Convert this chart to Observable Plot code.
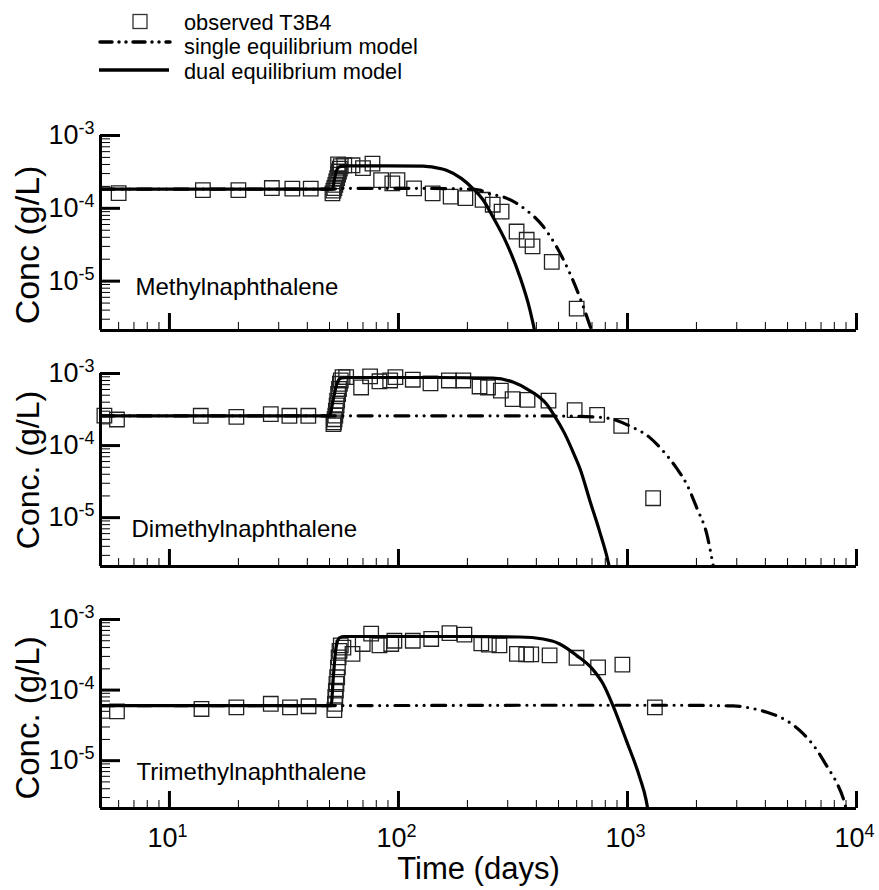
<!DOCTYPE html>
<html>
<head>
<meta charset="utf-8">
<script src="https://cdn.jsdelivr.net/npm/d3@7"></script>
<script src="https://cdn.jsdelivr.net/npm/@observablehq/plot@0.6"></script>
<style>
  body { margin: 0; background: #fff; }
  #root { position: relative; width: 879px; height: 890px; overflow: hidden; background: #fff;
          font-family: "Liberation Sans", Arial, sans-serif; }
  #root > svg { position: absolute; left: 0; overflow: visible; }
</style>
</head>
<body>
<div id="root"></div>
<script>
// ---------------- data ----------------
const panelNames = ["Methylnaphthalene", "Dimethylnaphthalene", "Trimethylnaphthalene"];
const yLabels = ["Conc (g/L)", "Conc. (g/L)", "Conc. (g/L)"];
const xLabel = "Time (days)";
const legendLabels = ["observed T3B4", "single equilibrium model", "dual equilibrium model"];

const xDomain = [5, 1e4];
const yDomain = [2.1e-6, 1e-3];
const xMajor = [10, 100, 1000, 10000];
const xMinor = [6, 7, 8, 9, 20, 30, 40, 50, 60, 70, 80, 90, 200, 300, 400, 500, 600, 700, 800, 900,
                2000, 3000, 4000, 5000, 6000, 7000, 8000, 9000];
const yMajor = [1e-3, 1e-4, 1e-5];
const yMinor = [3e-6, 4e-6, 5e-6, 6e-6, 7e-6, 8e-6, 9e-6,
                2e-5, 3e-5, 4e-5, 5e-5, 6e-5, 7e-5, 8e-5, 9e-5,
                2e-4, 3e-4, 4e-4, 5e-4, 6e-4, 7e-4, 8e-4, 9e-4];
const tickBase = "10";

// Methylnaphthalene  [time (days), conc (g/L)]
const obsMethyl = [
  [6.0, 1.62e-4], [14, 1.78e-4], [20, 1.78e-4], [28, 1.9e-4], [34.4, 1.86e-4], [41.4, 1.86e-4],
  [51.5, 1.6e-4], [52, 1.75e-4], [52.5, 1.9e-4], [53, 2.1e-4], [53.5, 2.35e-4], [54, 2.6e-4],
  [54.5, 2.9e-4], [55, 3.2e-4], [55.5, 3.5e-4], [56, 3.8e-4], [54.5, 4.0e-4],
  [58, 3.9e-4], [63, 3.9e-4], [70, 3.56e-4], [77, 4.1e-4], [84, 2.44e-4], [94, 2.2e-4], [99, 2.44e-4],
  [117, 1.88e-4], [141, 1.6e-4], [169, 1.45e-4], [196, 1.38e-4], [233, 1.31e-4], [258, 1.12e-4],
  [282, 9.0e-5], [328, 4.8e-5], [363, 3.7e-5], [385, 3.0e-5], [467, 1.84e-5], [600, 4.2e-6]
];
const singleMethyl = [
  [5, 1.84e-4], [51.5, 1.84e-4], [56, 1.88e-4], [120, 1.88e-4], [200, 1.84e-4], [226, 1.78e-4],
  [241, 1.64e-4], [296, 1.38e-4], [361, 9.5e-5], [428, 5.66e-5], [489, 3.0e-5], [558, 1.32e-5],
  [627, 5.4e-6], [697, 2.1e-6]
];
const dualMethyl = [
  [5, 1.84e-4], [51.5, 1.84e-4], [52.5, 2.5e-4], [53.5, 3.2e-4], [55, 3.7e-4], [58, 3.82e-4],
  [90, 3.82e-4], [128, 3.79e-4], [145, 3.62e-4], [162, 3.34e-4], [188, 2.58e-4], [211, 1.88e-4],
  [234, 1.31e-4], [258, 7.7e-5], [296, 3.36e-5], [338, 1.18e-5], [374, 4.16e-6], [393, 2.1e-6]
];

// Dimethylnaphthalene
const obsDimethyl = [
  [5.2, 2.6e-4], [5.9, 2.3e-4], [13.7, 2.59e-4], [19.6, 2.5e-4], [27.7, 2.73e-4], [33.4, 2.59e-4], [40.4, 2.59e-4],
  [52, 1.98e-4], [52.3, 2.1e-4], [52.6, 2.32e-4], [53, 2.6e-4], [53.3, 3.04e-4], [53.7, 3.6e-4],
  [54, 4.2e-4], [54.5, 5.2e-4], [55, 6.1e-4], [55.5, 7.2e-4], [56, 8.0e-4], [57, 8.9e-4],
  [59.1, 8.9e-4], [68.7, 6.4e-4], [75.2, 9.1e-4], [82.6, 7.8e-4], [92, 8.0e-4], [97, 8.9e-4],
  [115.5, 8.2e-4], [138, 7.3e-4], [166, 8.0e-4], [192, 8.0e-4], [226, 6.6e-4], [246, 6.4e-4],
  [280, 5.8e-4], [315, 4.4e-4], [366, 4.3e-4], [452, 4.2e-4], [588, 3.1e-4], [737, 2.67e-4],
  [939, 1.88e-4], [1294, 1.86e-5]
];
const singleDimethyl = [
  [5, 2.59e-4], [52, 2.59e-4], [200, 2.59e-4], [500, 2.57e-4], [783, 2.45e-4], [1022, 1.87e-4],
  [1252, 1.29e-4], [1432, 8.4e-5], [1635, 4.9e-5], [1815, 2.9e-5], [2010, 1.35e-5], [2226, 5.7e-6],
  [2300, 3.5e-6], [2370, 2.1e-6]
];
const dualDimethyl = [
  [5, 2.59e-4], [50, 2.59e-4], [52, 4.5e-4], [54, 7.5e-4], [56, 8.6e-4], [60, 8.8e-4], [150, 8.8e-4],
  [258, 8.6e-4], [316, 7.6e-4], [374, 5.8e-4], [442, 3.8e-4], [480, 2.59e-4], [530, 1.5e-4],
  [580, 8.0e-5], [620, 4.8e-5], [690, 1.6e-5], [756, 6.4e-6], [822, 2.5e-6], [835, 2.0e-6]
];

// Trimethylnaphthalene
const obsTrimethyl = [
  [5.9, 5.0e-5], [13.8, 5.4e-5], [19.6, 5.7e-5], [27.7, 6.4e-5], [33.6, 5.7e-5], [40.5, 5.9e-5],
  [52.5, 5.2e-5], [52.8, 6.4e-5], [53, 8.0e-5], [53.3, 9.8e-5], [53.6, 1.22e-4], [54, 1.52e-4],
  [54.4, 2.1e-4], [54.8, 2.9e-4], [55.3, 3.6e-4], [56, 4.3e-4], [57.5, 4.0e-4],
  [63, 3.26e-4], [69.8, 4.5e-4], [76, 6.3e-4], [82.6, 4.3e-4], [93, 4.5e-4], [96, 5.0e-4],
  [115.5, 5.0e-4], [139, 5.3e-4], [167, 6.4e-4], [194, 6.1e-4], [230, 4.6e-4], [248, 4.4e-4],
  [276, 4.3e-4], [329, 3.26e-4], [361, 3.2e-4], [380, 3.2e-4], [457, 3.1e-4], [599, 2.87e-4],
  [744, 2.1e-4], [950, 2.3e-4], [1317, 5.7e-5]
];
const singleTrimethyl = [
  [5, 6.03e-5], [52, 6.03e-5], [500, 6.1e-5], [1500, 6.1e-5], [2895, 5.97e-5], [3306, 5.7e-5],
  [4065, 4.84e-5], [4950, 3.7e-5], [5862, 2.4e-5], [6740, 1.39e-5], [7400, 8.5e-6], [8240, 4.7e-6],
  [8760, 2.9e-6], [9000, 2.1e-6]
];
const dualTrimethyl = [
  [5, 6.03e-5], [50.8, 6.03e-5], [52, 1.6e-4], [53.4, 4.0e-4], [55.2, 5.5e-4], [58, 5.74e-4],
  [200, 5.74e-4], [338, 5.65e-4], [428, 5.3e-4], [506, 4.5e-4], [599, 3.1e-4], [707, 1.95e-4],
  [783, 1.22e-4], [864, 6.03e-5], [989, 1.92e-5], [1131, 5.8e-6], [1205, 2.8e-6], [1225, 2.1e-6]
];

// ---------------- drawing ----------------
const FONT = '"Liberation Sans", Arial, sans-serif';
const root = document.getElementById("root");
const dashDot = "14,7.6,0,7.6,0,7.6";

function panel(obs, single, dual, name, ylabel, lay) {
  const marks = [
    Plot.axisY(yMinor, {anchor: "left", tickSize: 10, dx: 10, strokeWidth: 1, fill: "none", label: null}),
    Plot.axisY(yMajor, {anchor: "left", tickSize: 20, dx: 20, strokeWidth: 3, fill: "none", label: null}),
    Plot.axisX(xMinor, {anchor: "bottom", tickSize: 8, dy: -8, strokeWidth: 1, fill: "none", label: null}),
    Plot.axisX(xMajor, {anchor: "bottom", tickSize: 17, dy: -17, strokeWidth: 3, fill: "none", label: null}),
    Plot.dot(obs, {x: d => d[0], y: d => d[1], symbol: "square", r: 8.2, stroke: "#222", strokeWidth: 1.3, fill: "none"}),
    Plot.line(single, {x: d => d[0], y: d => d[1], stroke: "black", strokeWidth: 3.2, strokeDasharray: dashDot,
                       strokeLinecap: "round", curve: "monotone-x", clip: true}),
    Plot.line(dual, {x: d => d[0], y: d => d[1], stroke: "black", strokeWidth: 3.2, curve: "monotone-x", clip: true}),
    Plot.ruleX([xDomain[0]], {strokeWidth: 3}),
    Plot.ruleY([yDomain[0]], {strokeWidth: 3}),
    // y tick labels 10^k
    Plot.text(yMajor, {y: d => d, text: () => tickBase, frameAnchor: "left", dx: -22,
                       textAnchor: "end", lineAnchor: "middle", fontSize: 27}),
    Plot.text(yMajor, {y: d => d, text: d => String(Math.round(Math.log10(d))), frameAnchor: "left",
                       dx: -22, dy: -7, textAnchor: "start", lineAnchor: "middle", fontSize: 18}),
    // y axis title
    Plot.text([ylabel], {text: d => d, frameAnchor: "left", dx: -72, dy: lay.ylabDy, rotate: -90,
                         textAnchor: "middle", lineAnchor: "middle", fontSize: lay.ylabSize}),
    // panel label
    Plot.text([name], {text: d => d, frameAnchor: "bottom-left", dx: lay.nameDx, dy: lay.nameDy,
                       textAnchor: "start", lineAnchor: "middle", fontSize: 24})
  ];
  if (lay.showX) {
    marks.push(
      Plot.text(xMajor, {x: d => d, text: () => tickBase, frameAnchor: "bottom", dx: 8, dy: 30,
                         textAnchor: "end", lineAnchor: "middle", fontSize: 27}),
      Plot.text(xMajor, {x: d => d, text: d => String(Math.round(Math.log10(d))), frameAnchor: "bottom",
                         dx: 8, dy: 23, textAnchor: "start", lineAnchor: "middle", fontSize: 18}),
      Plot.text([xLabel], {text: d => d, frameAnchor: "bottom", dy: 61, textAnchor: "middle",
                           lineAnchor: "middle", fontSize: 31})
    );
  }
  const svg = Plot.plot({
    width: 879,
    height: lay.height,
    marginLeft: 100,
    marginRight: 23,
    marginTop: lay.mt,
    marginBottom: lay.mb,
    style: `font-family: ${FONT}; background: transparent; overflow: visible; color: black;`,
    x: {type: "log", domain: xDomain},
    y: {type: "log", domain: yDomain},
    marks
  });
  svg.style.top = lay.top + "px";
  root.appendChild(svg);
}

panel(obsMethyl, singleMethyl, dualMethyl, panelNames[0], yLabels[0],
      {top: 110, mt: 25, mb: 15, height: 235, ylabDy: 12, ylabSize: 34, nameDx: 35, nameDy: -43});
panel(obsDimethyl, singleDimethyl, dualDimethyl, panelNames[1], yLabels[1],
      {top: 350, mt: 23, mb: 12, height: 228, ylabDy: 0, ylabSize: 32, nameDx: 31, nameDy: -37});
panel(obsTrimethyl, singleTrimethyl, dualTrimethyl, panelNames[2], yLabels[2],
      {top: 596, mt: 23, mb: 82, height: 294, ylabDy: 4, ylabSize: 33, nameDx: 36, nameDy: -36, showX: true});

// ---------------- legend (above the panels) ----------------
const ns = "http://www.w3.org/2000/svg";
const leg = document.createElementNS(ns, "svg");
leg.setAttribute("width", 879);
leg.setAttribute("height", 100);
leg.style.top = "0px";
leg.style.fontFamily = FONT;
function el(tag, attrs, txt) {
  const e = document.createElementNS(ns, tag);
  for (const k in attrs) e.setAttribute(k, attrs[k]);
  if (txt) e.textContent = txt;
  leg.appendChild(e);
  return e;
}
el("rect", {x: 133, y: 14.5, width: 14, height: 14, fill: "none", stroke: "#333", "stroke-width": 1.3});
el("line", {x1: 100, x2: 170, y1: 42, y2: 42, stroke: "black", "stroke-width": 3.5,
            "stroke-dasharray": "12,7,0,7,0,7", "stroke-linecap": "round"});
el("line", {x1: 99, x2: 169, y1: 70, y2: 70, stroke: "black", "stroke-width": 3.5});
const baselines = [30, 54.3, 78.6];
legendLabels.forEach((t, i) => el("text", {x: 184, y: baselines[i], "font-size": 21.8, fill: "black"}, t));
root.appendChild(leg);
</script>
</body>
</html>
